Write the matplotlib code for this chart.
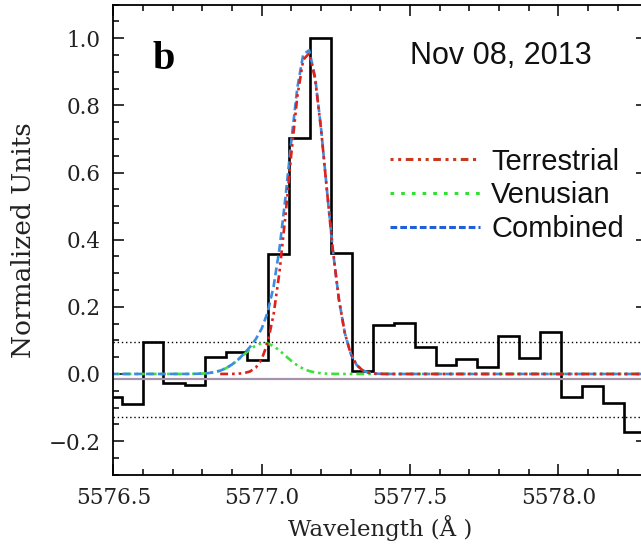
import matplotlib
matplotlib.use('Agg')
from matplotlib import pyplot as plt
from matplotlib.lines import Line2D
from matplotlib.ticker import MultipleLocator

# binned spectrum (bin edges in Angstrom, normalised counts)
bin_edges = [
    5576.458, 5576.528, 5576.599, 5576.669, 5576.740, 5576.810, 5576.881,
    5576.951, 5577.022, 5577.092, 5577.163, 5577.233, 5577.304, 5577.374,
    5577.445, 5577.515, 5577.586, 5577.656, 5577.727, 5577.797, 5577.868,
    5577.938, 5578.009, 5578.079, 5578.150, 5578.220, 5578.291,
]
counts = [
    -0.070, -0.089, 0.094, -0.028, -0.033, 0.052, 0.066, 0.042, 0.356,
    0.704, 1.000, 0.359, 0.010, 0.146, 0.152, 0.080, 0.027, 0.046, 0.022,
    0.114, 0.047, 0.126, -0.070, -0.036, -0.087, -0.174,
]

# fitted line profiles
fit_wave = [
    5576.45, 5576.74, 5576.76, 5576.78, 5576.80, 5576.82, 5576.84, 5576.86,
    5576.88, 5576.90, 5576.92, 5576.94, 5576.96, 5576.98, 5577.00, 5577.02,
    5577.04, 5577.06, 5577.08, 5577.10, 5577.12, 5577.14, 5577.16, 5577.18,
    5577.20, 5577.22, 5577.24, 5577.26, 5577.28, 5577.30, 5577.32, 5577.34,
    5577.36, 5577.38, 5577.40, 5577.42, 5577.44, 5578.35,
]
terrestrial = [
    0, 0, 0, 0, 0, 0, 0, 0,
    0.0001, 0.0002, 0.0008, 0.0025, 0.0072, 0.0187, 0.0439, 0.0928,
    0.177, 0.304, 0.471, 0.657, 0.826, 0.936, 0.955, 0.879,
    0.729, 0.545, 0.367, 0.223, 0.122, 0.060, 0.0267, 0.0107,
    0.0038, 0.0012, 0.0004, 0.0001, 0, 0,
]
venusian = [
    0, 0.0001, 0.0002, 0.0005, 0.0011, 0.0025, 0.0052, 0.0098,
    0.0173, 0.0280, 0.0417, 0.0574, 0.0727, 0.0849, 0.0914, 0.0907,
    0.0829, 0.0698, 0.0542, 0.0388, 0.0256, 0.0155, 0.0087, 0.0045,
    0.0021, 0.0009, 0.0004, 0.0002, 0, 0, 0, 0,
    0, 0, 0, 0, 0, 0,
]
combined = [
    0, 0.0001, 0.0002, 0.0005, 0.0011, 0.0025, 0.0052, 0.0098,
    0.0174, 0.0282, 0.0425, 0.0599, 0.0799, 0.1036, 0.1353, 0.1835,
    0.260, 0.374, 0.525, 0.696, 0.852, 0.952, 0.964, 0.884,
    0.731, 0.546, 0.367, 0.223, 0.122, 0.060, 0.0267, 0.0107,
    0.0038, 0.0012, 0.0004, 0.0001, 0, 0,
]

# background level and +/- 1 sigma
mean_level = -0.016
upper_level = 0.094
lower_level = -0.127

date_label = 'Nov 08, 2013'
panel_label = 'b'

SERIF = 'DejaVu Serif'
SANS = 'Liberation Sans'

fig = plt.figure(figsize=(6.41, 5.44), dpi=100)
ax = fig.add_axes([0.1768, 0.1274, 0.8333, 0.8641])

ax.axhline(upper_level, color='black', lw=1.0, ls=(0, (1, 2)))
ax.axhline(lower_level, color='black', lw=1.0, ls=(0, (1, 2)))
ax.axhline(mean_level, color='#a592ab', lw=1.6)

ax.stairs(counts, bin_edges, baseline=None, color='black', lw=1.9)

dash_dot_dot = (0, (3, 1.5, 1, 1.5, 1, 1.5))
ax.plot(fit_wave, venusian, color='#3ee03a', lw=1.9, ls=dash_dot_dot)
ax.plot(fit_wave, combined, color='#3a8de0', lw=1.9, ls=(0, (3, 1.5)))
ax.plot(fit_wave[7:], terrestrial[7:], color='#e0201a', lw=1.9,
        ls=dash_dot_dot)

ax.set_xlim(5576.5, 5578.3)
ax.set_ylim(-0.3, 1.1)
ax.xaxis.set_major_locator(MultipleLocator(0.5))
ax.xaxis.set_minor_locator(MultipleLocator(0.1))
ax.yaxis.set_major_locator(MultipleLocator(0.2))
ax.yaxis.set_minor_locator(MultipleLocator(0.05))
ax.xaxis.set_major_formatter(lambda v, pos: f'{v:.1f}')
ax.yaxis.set_major_formatter(lambda v, pos: f'{v:.1f}'.replace('-', '\u2212'))
ax.tick_params(which='both', direction='in', top=True, right=True,
               width=1.1, color='black')
ax.tick_params(which='major', length=8, pad=9, labelsize=15.5)
ax.tick_params(which='minor', length=4.5)
for lab in ax.get_xticklabels() + ax.get_yticklabels():
    lab.set_family(SERIF)
    lab.set_color('#222222')
for sp in ax.spines.values():
    sp.set_linewidth(1.3)

ax.set_xlabel('Wavelength (Å )', family=SERIF, fontsize=16.5, color='#222222',
              labelpad=4)
ax.set_ylabel('Normalized Units', family=SERIF, fontsize=19, color='#222222',
              labelpad=9)

ax.text(0.074, 0.863, panel_label, transform=ax.transAxes,
        family='Liberation Serif', fontweight='bold', fontsize=29,
        va='baseline')
ax.text(0.555, 0.874, date_label, transform=ax.transAxes, family=SANS,
        fontsize=22, va='baseline', color='#111111')

handles = [
    Line2D([], [], color='#c8391e', lw=2.2, ls=(0, (1, 1.5, 1, 1.5, 2.5, 1.5))),
    Line2D([], [], color='#2fe02f', lw=2.2, ls=(0, (1.2, 2.3))),
    Line2D([], [], color='#1f5fd8', lw=2.2, ls=(0, (2.2, 1))),
]
leg = ax.legend(handles, ['Terrestrial', 'Venusian', 'Combined'],
                loc='upper left', bbox_to_anchor=(0.518, 0.696), frameon=False,
                prop={'family': SANS, 'size': 21}, handlelength=3.1,
                handletextpad=0.37, labelspacing=0.2, borderpad=0.0,
                borderaxespad=0.0)
for t in leg.get_texts():
    t.set_color('#111111')

plt.savefig('out.png', dpi=100)
